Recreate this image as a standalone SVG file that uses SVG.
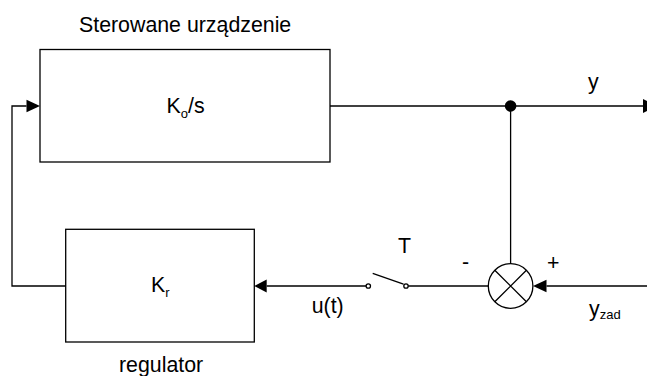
<svg xmlns="http://www.w3.org/2000/svg" width="647" height="376" viewBox="0 0 647 376">
<style>
.box{fill:#fff;stroke:#000;stroke-width:1.3}
.ln{fill:none;stroke:#000;stroke-width:1.3}
.t{font-family:"Liberation Sans",Arial,sans-serif;font-size:21.33px;fill:#000}
.sub{font-size:13px}
.ah{fill:#000;stroke:none}
</style>
<rect width="647" height="376" fill="#fff"/>
<g id="plant">
<rect class="box" x="40" y="49.5" width="290" height="112.5"/>
<text class="t" x="166.5" y="113.3">K<tspan class="sub" dy="5">o</tspan><tspan dy="-5">/s</tspan></text>
<text class="t" x="79" y="32">Sterowane urządzenie</text>
</g>
<g id="regulator">
<rect class="box" x="65.7" y="229.3" width="188.6" height="112.7"/>
<text class="t" x="151" y="291.7">K<tspan class="sub" dy="5">r</tspan></text>
<text class="t" x="119" y="372">regulator</text>
</g>
<g id="sum">
<circle class="ln" cx="510.6" cy="286" r="22.3"/>
<path class="ln" d="M494.8,270.2 L526.4,301.8 M526.4,270.2 L494.8,301.8"/>
</g>
<g id="switch">
<circle class="ln" cx="368.3" cy="286" r="2.2"/>
<circle class="ln" cx="406" cy="286" r="2.2"/>
<path class="ln" d="M372.7,273.3 L403.5,284.2"/>
<text class="t" x="398" y="253">T</text>
</g>
<g id="connectors">
<path class="ln" d="M330,106 H643"/>
<path class="ah" d="M643,99 L657,106 L643,113 Z"/>
<circle class="ah" cx="510.6" cy="106" r="5.8"/>
<path class="ln" d="M510.6,106 V263.7"/>
<path class="ln" d="M647,286 H546.5"/>
<path class="ah" d="M546.5,279.7 L533,286 L546.5,292.3 Z"/>
<path class="ln" d="M488.3,286 H408.2"/>
<path class="ln" d="M366.1,286 H266.7"/>
<path class="ah" d="M266.7,279.4 L254.3,286 L266.7,292.6 Z"/>
<path class="ln" d="M65.7,286 H12 V106 H26.5"/>
<path class="ah" d="M26.5,99.7 L40,106 L26.5,112.3 Z"/>
<text class="t" x="588" y="89">y</text>
<text class="t" x="311.7" y="313.3">u(t)</text>
<text class="t" x="462" y="269">-</text>
<text class="t" x="547" y="270">+</text>
<text class="t" x="589" y="316">y<tspan class="sub" dy="2.5">zad</tspan></text>
</g>
</svg>
